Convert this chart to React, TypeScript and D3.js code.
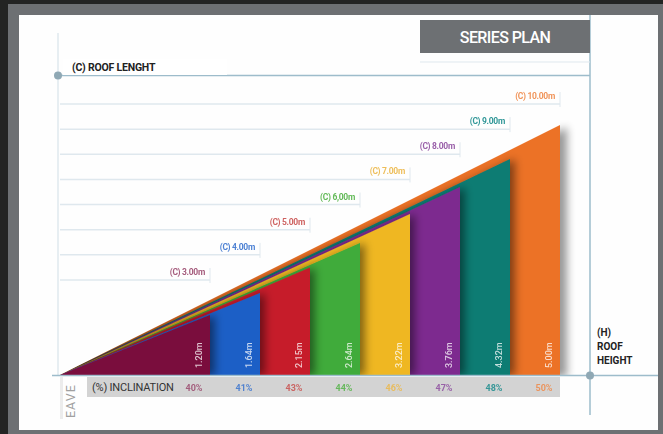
import * as d3 from "d3";

// roof length (C), roof height (H) and inclination for each plan
const roofLengths = [3, 4, 5, 6, 7, 8, 9, 10];
const roofHeights = [1.2, 1.64, 2.15, 2.64, 3.22, 3.76, 4.32, 5.0];
const inclinations = [40, 41, 43, 44, 46, 47, 48, 50];
const lengthLabels = ["(C) 3.00m", "(C) 4.00m", "(C) 5.00m", "(C) 6,00m", "(C) 7.00m", "(C) 8.00m", "(C) 9.00m", "(C) 10.00m"];
const heightLabels = ["1.20m", "1.64m", "2.15m", "2.64m", "3.22m", "3.76m", "4.32m", "5.00m"];
const barColors = ["#7a0e3d", "#1f5fc6", "#c61f2a", "#3fab3b", "#efb722", "#7d2a8f", "#0f7b73", "#ec7226"];
const textColors = ["#9b4a6e", "#3a74cf", "#c9514f", "#53b347", "#ecb84a", "#8f4fa0", "#1b8c8d", "#ef8a4a"];

const W = 663;
const H = 434;

export default function App() {
  const x = d3.scaleLinear().domain([0, 10]).range([60, 560]);
  const y = d3.scaleLinear().domain([0, 5]).range([375, 125]);
  const yLabel = d3.scaleLinear().domain([3, 10]).range([280, 104]);

  const tri = (c: number, h: number) => {
    const p = d3.path();
    p.moveTo(x(0), y(0));
    p.lineTo(x(c), y(0));
    p.lineTo(x(c), y(h));
    p.closePath();
    return p.toString();
  };

  const n = roofLengths.length;
  const last = n - 1;
  const inner = d3.range(n - 1).reverse();
  const font = "Roboto, 'DejaVu Sans', sans-serif";
  const gridColor = "#dfe8ee";
  const axisColor = "#9dbccb";
  const outerPath = tri(roofLengths[last], roofHeights[last]);

  return (
    <svg width={W} height={H} style={{ position: "absolute", left: 0, top: 0 }} fontFamily={font}>
      <defs>
        <filter id="shadow" x="-20%" y="-20%" width="140%" height="140%">
          <feDropShadow dx={5} dy={0} stdDeviation={4} floodColor="#000" floodOpacity={0.45} />
        </filter>
        <filter id="blur" x="-20%" y="-20%" width="140%" height="140%">
          <feGaussianBlur stdDeviation={4} />
        </filter>
        <clipPath id="outerClip">
          <path d={outerPath} />
        </clipPath>
        <clipPath id="rightClip">
          <rect x={x(10)} y={0} width={60} height={y(0)} />
        </clipPath>
      </defs>
      {/* frame */}
      <rect x={0} y={0} width={W} height={H} fill="#232423" />
      <rect x={8} y={4} width={W - 8} height={H - 4} fill="#6d7073" />
      <rect x={19} y={15} width={639} height={415} fill="#fefefe" />

      {/* guide lines */}
      <line x1={58} x2={58} y1={33} y2={375} stroke={gridColor} strokeWidth={1.5} />
      <line x1={590} x2={590} y1={15} y2={415} stroke={axisColor} strokeWidth={1.5} />
      <line x1={420} x2={590} y1={62} y2={62} stroke={gridColor} strokeWidth={1} />

      {roofLengths.map((c, i) => (
        <g key={"g" + c}>
          <line x1={60} x2={x(c)} y1={yLabel(c)} y2={yLabel(c)} stroke={gridColor} strokeWidth={1.5} />
          <line x1={x(c)} x2={x(c)} y1={yLabel(c) - 12} y2={yLabel(c) + 3} stroke={gridColor} strokeWidth={1} />
          <text x={x(c) - 5} y={yLabel(c) - 5} textAnchor="end" fontSize={8.5} fontWeight={700} fill={textColors[i]} opacity={0.9} letterSpacing={-0.3}>
            {lengthLabels[i]}
          </text>
        </g>
      ))}

      {/* shadow of the outer roof on the background */}
      <g clipPath="url(#rightClip)">
        <path d={outerPath} transform="translate(7,2)" fill="#000" opacity={0.4} filter="url(#blur)" />
      </g>
      <path d={outerPath} fill={barColors[last]} />
      {/* nested roof triangles, shadows kept inside the outer roof */}
      <g clipPath="url(#outerClip)">
        {inner.map((i) => (
          <path key={"t" + i} d={tri(roofLengths[i], roofHeights[i])} fill={barColors[i]} filter="url(#shadow)" />
        ))}
      </g>

      {roofLengths.map((c, i) => (
        <text
          key={"h" + c}
          transform={`translate(${x(c) - 8},368) rotate(-90)`}
          fontSize={9}
          fill="#fff"
          opacity={0.75}
          fontWeight={500}
        >
          {heightLabels[i]}
        </text>
      ))}

      {/* baseline */}
      <line x1={52} x2={658} y1={375.5} y2={375.5} stroke={axisColor} strokeWidth={1.5} />
      <circle cx={590} cy={375.5} r={4} fill="#8fa8b4" />

      {/* inclination band */}
      <rect x={87} y={377} width={473} height={20} fill="#d3d3d3" />
      <text x={92} y={391} fontSize={11} fill="#333" letterSpacing={-0.2}>(%) INCLINATION</text>
      {roofLengths.map((c, i) => (
        <text key={"p" + c} x={x(c) - 16} y={391} textAnchor="middle" fontSize={9} fontWeight={700} fill={textColors[i]} opacity={0.85}>
          {inclinations[i]}%
        </text>
      ))}

      <rect x={60} y={377} width={3} height={42} fill="#ececec" />
      <text transform="translate(75,418) rotate(-90)" fontSize={12.5} fill="#a0a0a0" letterSpacing={1}>EAVE</text>

      {/* roof length label */}
      <line x1={58} x2={590} y1={75.5} y2={75.5} stroke={axisColor} strokeWidth={1.5} />
      <rect x={63} y={59} width={164} height={16} fill="#fff" />
      <circle cx={58} cy={75.5} r={4} fill="#8fa8b4" />
      <text x={72} y={71} fontSize={10.5} fontWeight={700} fill="#222" letterSpacing={-0.2}>(C) ROOF LENGHT</text>

      {/* roof height label */}
      <text fontSize={10} fontWeight={700} fill="#222">
        <tspan x={597} y={336}>(H)</tspan>
        <tspan x={597} y={350}>ROOF</tspan>
        <tspan x={597} y={364}>HEIGHT</tspan>
      </text>

      {/* title */}
      <rect x={420} y={20} width={170} height={33} fill="#6d7073" />
      <text x={505} y={43} textAnchor="middle" fontSize={16} fontWeight={500} fill="#fff" letterSpacing={-0.6}>SERIES PLAN</text>
    </svg>
  );
}
